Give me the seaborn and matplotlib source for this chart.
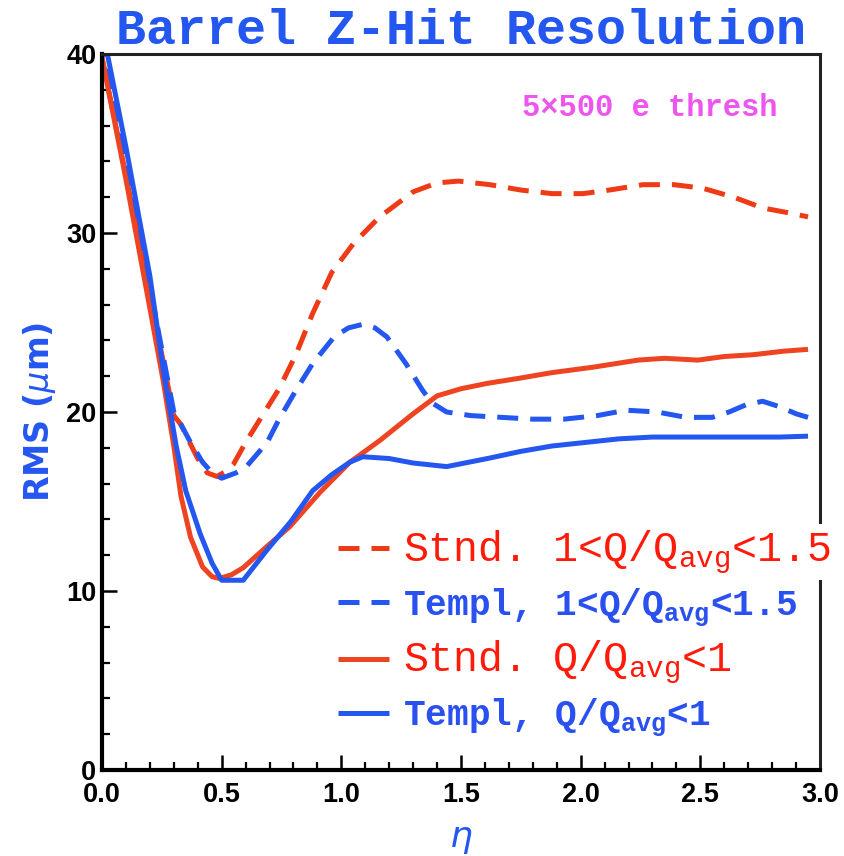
import matplotlib
matplotlib.use("Agg")
import matplotlib.pyplot as plt
import seaborn as sns
import numpy as np
import pandas as pd
from matplotlib.ticker import MultipleLocator

# ---------------- data ----------------
eta_stnd_hi = [0.00, 0.05, 0.10, 0.15, 0.20, 0.25, 0.30, 0.33, 0.37, 0.40, 0.44, 0.48,
               0.52, 0.55, 0.60, 0.67, 0.74, 0.81, 0.88, 0.96, 1.05, 1.16, 1.30, 1.40,
               1.49, 1.62, 1.75, 1.88, 2.01, 2.12, 2.26, 2.39, 2.51, 2.64, 2.76, 2.88, 2.95]
rms_stnd_hi = [39.8, 36.5, 33.2, 29.9, 26.6, 23.2, 19.8, 19.3, 18.2, 17.4, 16.6, 16.4,
               16.7, 17.1, 18.3, 19.8, 21.3, 23.2, 25.5, 27.8, 29.4, 30.9, 32.3, 32.8,
               32.9, 32.7, 32.4, 32.2, 32.2, 32.4, 32.7, 32.7, 32.5, 32.0, 31.4, 31.1, 30.9]

eta_templ_hi = [0.00, 0.10, 0.20, 0.30, 0.33, 0.37, 0.42, 0.46, 0.50, 0.56, 0.60, 0.69,
                0.74, 0.81, 0.88, 0.97, 1.03, 1.09, 1.14, 1.19, 1.27, 1.34, 1.38, 1.44,
                1.54, 1.67, 1.80, 1.93, 2.07, 2.19, 2.32, 2.44, 2.55, 2.62, 2.69, 2.76,
                2.83, 2.90, 2.95]
rms_templ_hi = [41.0, 34.2, 27.0, 20.0, 19.3, 18.3, 17.2, 16.6, 16.3, 16.6, 16.9, 18.3,
                19.6, 21.2, 22.7, 24.2, 24.7, 24.9, 24.7, 24.2, 22.7, 21.2, 20.5, 20.0,
                19.8, 19.7, 19.6, 19.6, 19.8, 20.1, 20.0, 19.7, 19.7, 20.0, 20.4, 20.6,
                20.3, 19.9, 19.7]

eta_stnd_lo = [0.00, 0.10, 0.20, 0.255, 0.30, 0.33, 0.37, 0.42, 0.46, 0.49, 0.54, 0.59,
               0.69, 0.785, 0.91, 1.036, 1.16, 1.30, 1.40, 1.50, 1.61, 1.75, 1.88, 2.05,
               2.24, 2.35, 2.49, 2.60, 2.72, 2.85, 2.95]
rms_stnd_lo = [39.8, 33.0, 25.8, 21.8, 18.1, 15.3, 13.0, 11.35, 10.8, 10.7, 10.9, 11.3,
               12.5, 13.6, 15.5, 17.2, 18.4, 19.9, 20.9, 21.3, 21.6, 21.9, 22.2, 22.5,
               22.9, 23.0, 22.9, 23.1, 23.2, 23.4, 23.5]

eta_templ_lo = [0.00, 0.10, 0.20, 0.26, 0.31, 0.35, 0.41, 0.46, 0.50, 0.59, 0.69, 0.79,
                0.88, 0.96, 1.036, 1.09, 1.20, 1.30, 1.44, 1.61, 1.75, 1.88, 2.02, 2.16,
                2.30, 2.60, 2.83, 2.95]
rms_templ_lo = [41.5, 34.8, 27.6, 22.0, 18.1, 15.6, 13.2, 11.55, 10.6, 10.6, 12.3, 13.9,
                15.6, 16.5, 17.2, 17.5, 17.4, 17.15, 16.95, 17.4, 17.8, 18.1, 18.3, 18.5,
                18.6, 18.6, 18.6, 18.65]

labels = [r"Stnd. 1<Q/Q$_{\rm avg}$<1.5",
          r"Templ, 1<Q/Q$_{\bf avg}$<1.5",
          r"Stnd. Q/Q$_{\rm avg}$<1",
          r"Templ, Q/Q$_{\bf avg}$<1"]
x_ticks = [0.0, 0.5, 1.0, 1.5, 2.0, 2.5, 3.0]
x_ticklabels = ["0.0", "0.5", "1.0", "1.5", "2.0", "2.5", "3.0"]
y_ticks = [0, 10, 20, 30, 40]
y_ticklabels = ["0", "10", "20", "30", "40"]
title = "Barrel Z-Hit Resolution"
note = "5\u00d7500 e thresh"

# ---------------- style ----------------
sns.set_theme(style="white")
plt.rcParams["font.family"] = ["Liberation Mono", "DejaVu Sans"]
plt.rcParams["mathtext.fontset"] = "custom"
plt.rcParams["mathtext.rm"] = "Liberation Mono"
plt.rcParams["mathtext.it"] = "Liberation Mono:italic"
plt.rcParams["mathtext.bf"] = "Liberation Mono:bold"

RED = "#EE3A15"
RED_SOLID = "#EE4422"
BLUE = "#2456F0"
RED_TXT = "#FF1A0A"
BLUE_TXT = "#2A50F0"
MAGENTA = "#EE55EE"

fig = plt.figure(figsize=(8.45, 8.56), dpi=100)
ax = fig.add_axes([102 / 845, 1 - 770 / 856, 718 / 845, 716 / 856])

lw = 3.6
series = [
    (eta_stnd_hi, rms_stnd_hi, RED, True),
    (eta_templ_hi, rms_templ_hi, BLUE, True),
    (eta_stnd_lo, rms_stnd_lo, RED_SOLID, False),
    (eta_templ_lo, rms_templ_lo, BLUE, False),
]
for (ex, ry, col, dashed), lab in zip(series, labels):
    sns.lineplot(x=ex, y=ry, ax=ax, color=col, linewidth=lw, label=lab,
                 estimator=None, sort=False, legend=False)
lines = ax.get_lines()
for ln, (_, _, _, dashed) in zip(lines, series):
    if dashed:
        ln.set_dashes((4.2, 2.4))
    ln.set_solid_capstyle("butt")
    ln.set_dash_capstyle("butt")

ax.set_xlim(0, 3)
ax.set_ylim(0, 40)
ax.set_xticks(x_ticks)
ax.set_xticklabels(x_ticklabels)
ax.set_yticks(y_ticks)
ax.set_yticklabels(y_ticklabels)
ax.xaxis.set_minor_locator(MultipleLocator(0.1))
ax.yaxis.set_minor_locator(MultipleLocator(2))
ax.tick_params(which="major", direction="in", length=11, width=1.8, color="black",
               bottom=True, left=True, top=False, right=False)
ax.tick_params(which="minor", direction="in", length=5.5, width=1.6, color="black",
               bottom=True, left=True, top=False, right=False)
ax.tick_params(axis="x", which="major", pad=9)
ax.tick_params(axis="y", which="major", pad=4)
for t in ax.get_xticklabels() + ax.get_yticklabels():
    t.set_fontfamily("Liberation Sans")
    t.set_fontweight("bold")
    t.set_fontsize(19.5)
    t.set_color("black")

ax.spines["left"].set_linewidth(3.0)
ax.spines["bottom"].set_linewidth(3.0)
ax.spines["top"].set_linewidth(2.2)
ax.spines["right"].set_linewidth(2.2)
for s in ["left", "bottom"]:
    ax.spines[s].set_color("black")
for s in ["top", "right"]:
    ax.spines[s].set_color("#222222")

ax.set_title(title, fontsize=36, fontweight="bold", color=BLUE,
             fontfamily="Liberation Mono", pad=3)

ax.set_ylabel(r"RMS ($\mu$m)", fontsize=24, fontweight="bold", color=BLUE,
              fontfamily="DejaVu Sans", labelpad=6, math_fontfamily="dejavusans")
ax.set_xlabel(r"$\eta$", fontsize=26, color=BLUE, labelpad=9,
              math_fontfamily="dejavusans")

ax.text(0.9415, 0.925, note, transform=ax.transAxes, ha="right", va="center",
        fontsize=22, fontweight="bold", color=MAGENTA, fontfamily="Liberation Mono")

leg = ax.legend(handles=lines, labels=labels, loc="upper left",
                bbox_to_anchor=(338 / 845, 1 - 528 / 856),
                bbox_transform=fig.transFigure, frameon=False, borderpad=0,
                borderaxespad=0, handlelength=1.4, handletextpad=0.4,
                labelspacing=0.3, prop={"family": "Liberation Mono", "size": 26})
leg.set_zorder(10)
txt_styles = [(30, "normal", RED_TXT), (26, "bold", BLUE_TXT),
              (30, "normal", RED_TXT), (26, "bold", BLUE_TXT)]
for t, (sz, wt, c) in zip(leg.get_texts(), txt_styles):
    t.set_fontsize(sz)
    t.set_fontweight(wt)
    t.set_color(c)
leg.get_texts()[0].set_bbox(dict(facecolor="white", edgecolor="none", pad=3))

fig.savefig("out.png", dpi=100)
